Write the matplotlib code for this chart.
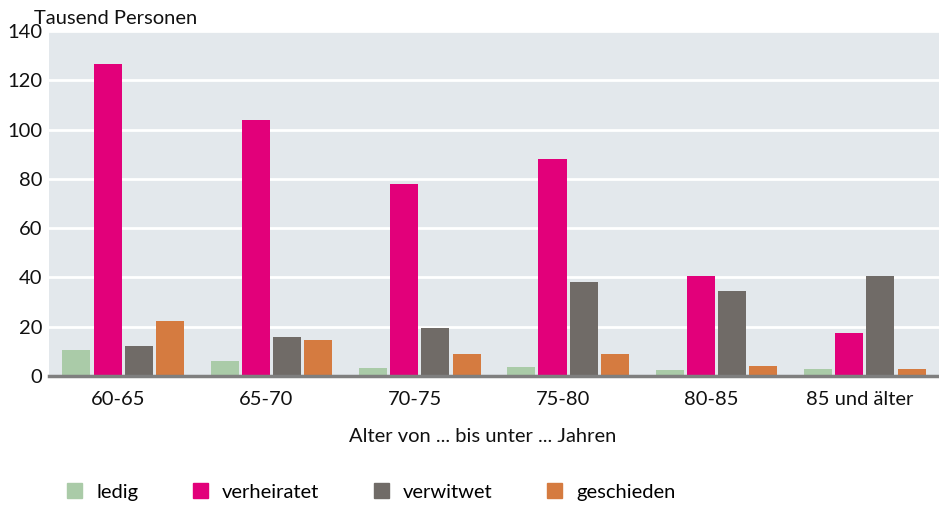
import numpy as np
import matplotlib
matplotlib.use('Agg')
from matplotlib import pyplot as plt
from matplotlib.patches import Patch

plt.rcParams['font.family'] = ['Lato', 'DejaVu Sans']

groups = ['60-65', '65-70', '70-75', '75-80', '80-85', '85 und älter']
series = ['ledig', 'verheiratet', 'verwitwet', 'geschieden']
ledig = [10.5, 6.1, 3.2, 3.7, 2.4, 2.8]
verheiratet = [126.6, 103.9, 77.9, 88.0, 40.6, 17.5]
verwitwet = [12.2, 15.8, 19.5, 38.1, 34.5, 40.6]
geschieden = [22.3, 14.6, 8.9, 8.9, 4.1, 2.8]
colors = ['#aacba8', '#e2007a', '#706b67', '#d57b40']

fs = 14.5
fig = plt.figure(figsize=(9.39, 5.05), dpi=100)
ax = fig.add_axes([49/939, 1-376/505, 890/939, 345/505])
ax.set_facecolor('#e3e8ec')

x = np.arange(len(groups))
w = 0.189
step = 0.211
for i, (vals, c) in enumerate(zip([ledig, verheiratet, verwitwet, geschieden], colors)):
    ax.bar(x + (i - 1.5)*step, vals, width=w, color=c, zorder=3)

ax.set_xlim(-0.5, 5.5)
ax.set_ylim(0, 140)
ax.set_yticks(range(0, 141, 20))
ax.yaxis.grid(True, color='white', linewidth=2, zorder=1)
ax.set_axisbelow(True)
for s in ['top', 'right', 'left']:
    ax.spines[s].set_visible(False)
ax.spines['bottom'].set_color('#7f7f7f')
ax.spines['bottom'].set_linewidth(2.5)
ax.spines['bottom'].set_zorder(4)
ax.tick_params(axis='both', length=0, labelsize=fs, colors='#111111')
ax.tick_params(axis='y', pad=5)
ax.tick_params(axis='x', pad=11)
ax.set_xticks(x - 0.035)
ax.set_xticklabels(groups)

fig.text(34/939, 1-18/505, 'Tausend Personen', fontsize=fs, va='center', ha='left', color='#111111')
fig.text(483/939, 1-437/505, 'Alter von ... bis unter ... Jahren', fontsize=fs,
         va='center', ha='center', color='#111111')

handles = [Patch(color=c, label=s) for s, c in zip(series, colors)]
fig.legend(handles=handles, loc='center left', bbox_to_anchor=(67/939, 1-492/505), ncol=4,
           frameon=False, fontsize=fs, handlelength=0.75, handleheight=0.75,
           handletextpad=0.7, columnspacing=2.7, borderaxespad=0, borderpad=0)

fig.savefig('out.png', dpi=100)
